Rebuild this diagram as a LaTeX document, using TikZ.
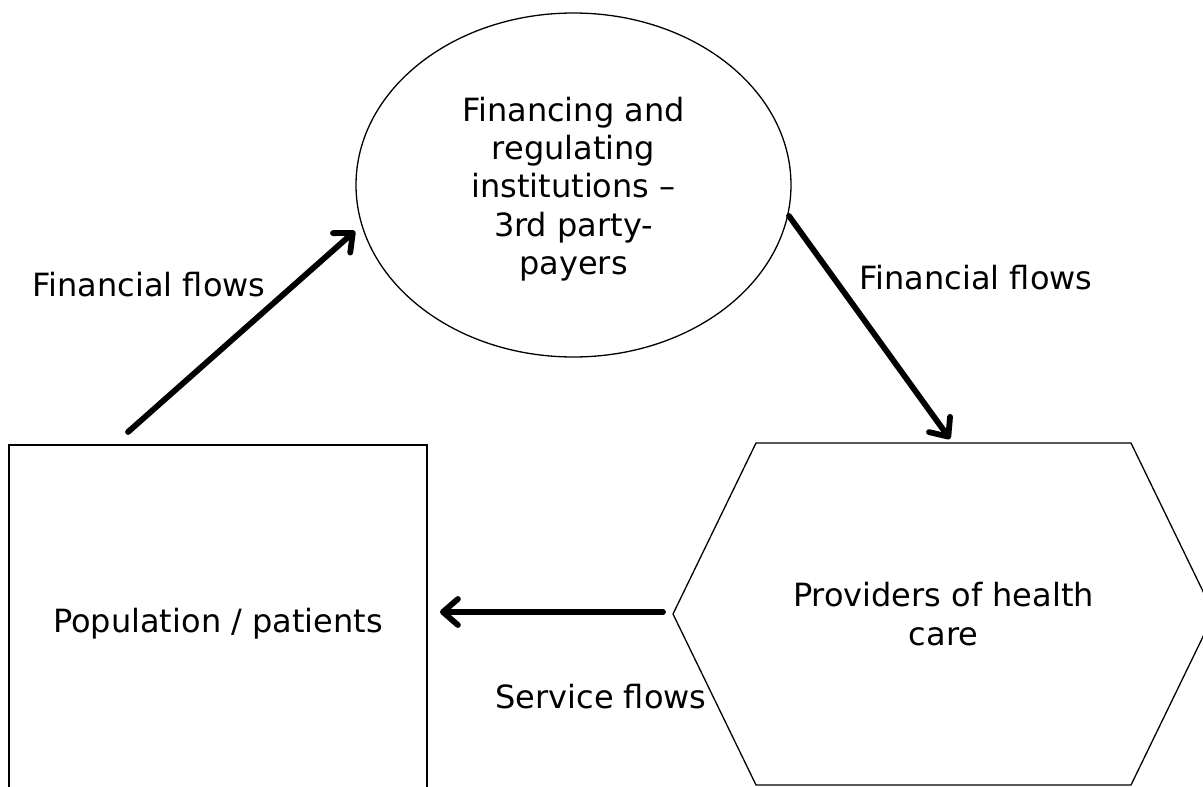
\documentclass[tikz,border=0pt]{standalone}
\usepackage{fontspec}
\setmainfont{DejaVu Sans}
\usetikzlibrary{arrows.meta,shapes.geometric}
\begin{document}
\begin{tikzpicture}[x=1pt,y=-1pt,
  shapeline/.style={draw=black,line width=1.3pt},
  lbl/.style={font=\fontsize{32}{38.4}\selectfont, inner sep=0pt},
  flow/.style={line width=5.8pt, line cap=round,
    -{Straight Barb[length=15pt,width=26pt,line join=round,line cap=round]}}]
\useasboundingbox (0,0) rectangle (1203,787);
\clip (0,0) rectangle (1203,787);
% financing institutions
\node[shapeline, ellipse, minimum width=435pt, minimum height=344pt, inner sep=0pt]
  (fin) at (573.5,185) {};
\node[lbl, align=center] (fintxt) at (573.5,189)
  {Financing and\\regulating\\institutions –\\3rd party-\\payers};
% population
\node[shapeline, rectangle, minimum width=418pt, minimum height=358pt, lbl]
  (pop) at (218,624) {Population / patients};
% providers hexagon
\coordinate (h1) at (756,443);
\coordinate (h2) at (1131,443);
\coordinate (h3) at (1214,614);
\coordinate (h4) at (1131,785);
\coordinate (h5) at (756,785);
\coordinate (h6) at (673,614);
\draw[shapeline, line join=miter] (h1) -- (h2) -- (h3) -- (h4) -- (h5) -- (h6) -- cycle;
\node[lbl, align=center] (prov) at (943.5,614) {Providers of health\\care};
% labels
\node[lbl] (ffl) at (149,285) {Financial flows};
\node[lbl] (ffr) at (976,278) {Financial flows};
\node[lbl] (sf) at (601,697) {Service flows};
% arrows
\coordinate (a1s) at (128,432);
\coordinate (a1e) at (355,231);
\coordinate (a2s) at (789,216);
\coordinate (a2e) at (950,439);
\coordinate (a3s) at (663,612);
\coordinate (a3e) at (440,612);
\draw[flow] (a1s) -- (a1e);
\draw[flow] (a2s) -- (a2e);
\draw[flow] (a3s) -- (a3e);
\end{tikzpicture}
\end{document}
